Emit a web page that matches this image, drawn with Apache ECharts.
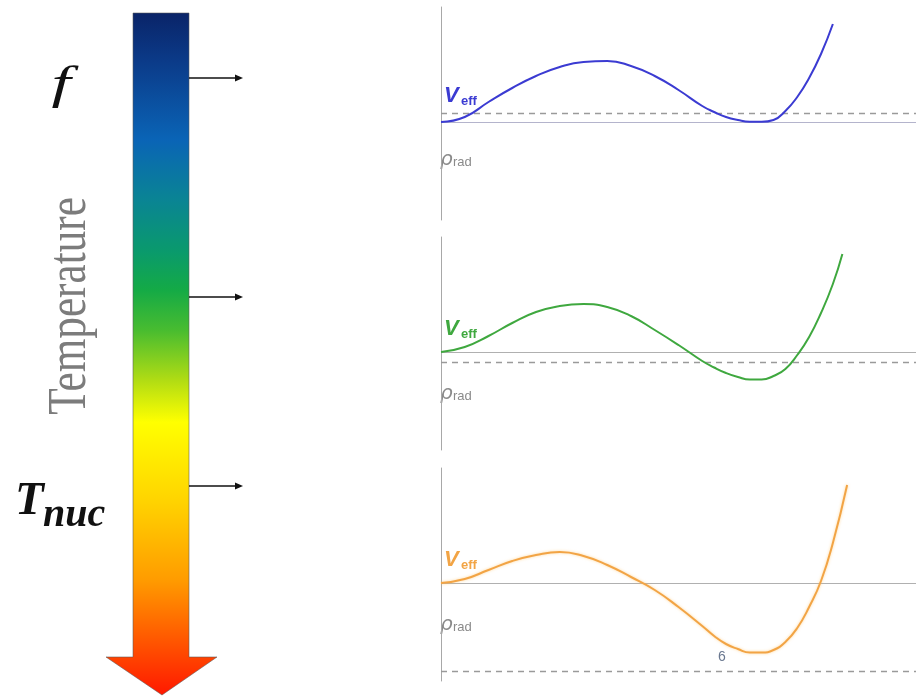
<!DOCTYPE html>
<html>
<head>
<meta charset="utf-8">
<title>Effective potential vs temperature</title>
<script src="https://cdn.jsdelivr.net/npm/echarts@6/dist/echarts.min.js"></script>
<style>
  html, body { margin: 0; padding: 0; background: #ffffff; }
  #chart { width: 916px; height: 700px; }
</style>
</head>
<body>
<div id="chart"></div>
<script>
// Effective potential V_eff(ρ_rad) at three temperatures, high (top) to T_nuc (bottom).
// x: field value (0–100), y: potential relative to the false-vacuum level.
const highTCurve = [
  [0, 0], [5, 5], [10, 20], [15, 34], [20, 46], [25, 55], [30, 60], [35, 61],
  [40, 56], [45, 46], [50, 32], [55, 16], [57.5, 10], [60, 5], [62.5, 2], [65, 0.3],
  [67.5, 0.2], [70, 2], [72.5, 11], [75, 25], [77.5, 44], [80, 68], [82.5, 98]
];
const midTCurve = [
  [0, 0], [5, 5], [10, 16], [15, 29], [20, 40], [25, 46], [30, 48], [35, 45],
  [40, 36], [45, 22], [50, 7], [55, -9], [57.5, -15.5], [60, -21], [62.5, -25], [65, -27.5],
  [67.5, -27.5], [70, -24], [72.5, -17], [75, -3], [77.5, 15], [80, 39], [82.5, 68], [84.5, 98]
];
const nucTCurve = [
  [0, 0], [5, 4], [10, 13], [15, 22], [20, 28], [25, 31], [30, 27], [35, 18],
  [40, 6], [45, -7], [50, -24], [55, -43], [57.5, -53], [60, -61], [62.5, -66], [65, -69.5],
  [67.5, -69.5], [70, -67], [72.5, -59], [75, -45], [77.5, -24], [80, 2], [82.5, 40], [85.5, 98]
];
const curves = [highTCurve, midTCurve, nucTCurve];
const curveColors = ['#3b3bd2', '#3fa83f', '#f2a445'];
const baselineColors = ['#b4b4cc', '#b0b0b0', '#b0b0b0'];
const dashedLevels = [9, -10, -88];
const panelLabels = ['f', 'Temperature', 'T', 'nuc'];
const minLabel = '6';

const yMin = -98, yMax = 115;
const panelTops = [7, 237, 468];
const panelHeight = 213;
const plotLeft = 441;

const chart = echarts.init(document.getElementById('chart'), null, { renderer: 'canvas' });

const grids = [], xAxes = [], yAxes = [], series = [];
curves.forEach((data, i) => {
  grids.push({ left: plotLeft, right: 0, top: panelTops[i], height: panelHeight });
  xAxes.push({ type: 'value', gridIndex: i, min: 0, max: 100, show: false });
  yAxes.push({
    type: 'value', gridIndex: i, min: yMin, max: yMax,
    axisLine: { show: true, onZero: false, lineStyle: { color: '#a8a8a8', width: 1 } },
    axisTick: { show: false }, axisLabel: { show: false }, splitLine: { show: false }
  });
  series.push({
    type: 'line', xAxisIndex: i, yAxisIndex: i, data: data,
    smooth: 0.5, showSymbol: false, silent: true, z: 3,
    lineStyle: { color: curveColors[i], width: 2, shadowColor: i === 2 ? 'rgba(255,190,90,0.6)' : 'rgba(0,0,0,0)', shadowBlur: i === 2 ? 3 : 0 },
    markLine: {
      silent: true, symbol: 'none', label: { show: false }, z: 2,
      data: [
        { yAxis: 0, lineStyle: { color: baselineColors[i], type: 'solid', width: 1 } },
        { yAxis: dashedLevels[i], lineStyle: { color: '#9a9a9a', type: [6, 5], width: 1.3 } }
      ]
    }
  });
});

// Pixel row of the zero level in each panel
const zeroY = panelTops.map(t => t + panelHeight * yMax / (yMax - yMin));

const graphics = [];

// Temperature bar with arrowhead
graphics.push({
  type: 'polygon',
  shape: { points: [[133, 13], [189, 13], [189, 657], [217, 657], [162, 695], [106, 657], [133, 657]] },
  style: {
    fill: new echarts.graphic.LinearGradient(0, 0, 0, 1, [
      { offset: 0, color: '#0a2468' },
      { offset: 0.07, color: '#0b3a88' },
      { offset: 0.186, color: '#0a64b6' },
      { offset: 0.274, color: '#0a8494' },
      { offset: 0.35, color: '#0a9a6c' },
      { offset: 0.406, color: '#14aa46' },
      { offset: 0.465, color: '#48bc30' },
      { offset: 0.538, color: '#b0dc14' },
      { offset: 0.6, color: '#ffff00' },
      { offset: 0.714, color: '#ffd400' },
      { offset: 0.83, color: '#ff9c00' },
      { offset: 0.92, color: '#ff5600' },
      { offset: 1, color: '#ff1800' }
    ]),
    stroke: 'rgba(90,90,90,0.55)', lineWidth: 1
  }
});

// Pointer arrows from the bar to each panel
[78, 297, 486].forEach(y => {
  graphics.push({ type: 'line', shape: { x1: 189, y1: y, x2: 237, y2: y }, style: { stroke: '#111', lineWidth: 1.5 } });
  graphics.push({ type: 'polygon', shape: { points: [[243, y], [235, y - 3.5], [235, y + 3.5]] }, style: { fill: '#111' } });
});

// Left-side labels
graphics.push({
  type: 'text', x: 61, y: 86, scaleX: 1.5, scaleY: 1,
  style: { text: panelLabels[0], font: 'italic 46px "Liberation Serif", "DejaVu Serif", serif', fill: '#111', align: 'center', verticalAlign: 'middle' }
});
graphics.push({
  type: 'text', x: 71, y: 306, rotation: Math.PI / 2, scaleX: 0.8, scaleY: 1,
  style: { text: panelLabels[1], font: '54px "Liberation Serif", "DejaVu Serif", serif', fill: '#7c7c7c', align: 'center', verticalAlign: 'middle' }
});
graphics.push({
  type: 'text', x: 15, y: 525,
  style: { text: panelLabels[2], font: 'italic bold 47px "Liberation Serif", "DejaVu Serif", serif', fill: '#111', align: 'left', verticalAlign: 'bottom' }
});
graphics.push({
  type: 'text', x: 43, y: 536,
  style: { text: panelLabels[3], font: 'italic bold 40px "Liberation Serif", "DejaVu Serif", serif', fill: '#111', align: 'left', verticalAlign: 'bottom' }
});

// Panel labels: V_eff and ρ_rad
const vOffsets = [-19, -16, -16];
const rhoOffsets = [44, 48, 48];
zeroY.forEach((z, i) => {
  const vb = z + vOffsets[i];
  graphics.push({
    type: 'text', x: 444, y: vb + 4,
    style: { text: 'V', font: 'italic bold 22px "Liberation Sans", Arial, sans-serif', fill: curveColors[i], align: 'left', verticalAlign: 'bottom' }
  });
  graphics.push({
    type: 'text', x: 461, y: vb + 5,
    style: { text: 'eff', font: 'bold 13px "Liberation Sans", Arial, sans-serif', fill: curveColors[i], align: 'left', verticalAlign: 'bottom' }
  });
  const rb = z + rhoOffsets[i];
  graphics.push({
    type: 'text', x: 440, y: rb + 4,
    style: { text: 'ρ', font: 'italic 20px "DejaVu Sans", sans-serif', fill: '#8a8a8a', align: 'left', verticalAlign: 'bottom' }
  });
  graphics.push({
    type: 'text', x: 453, y: rb + 3,
    style: { text: 'rad', font: '13px "Liberation Sans", Arial, sans-serif', fill: '#8a8a8a', align: 'left', verticalAlign: 'bottom' }
  });
});

// Label under the true-vacuum minimum
graphics.push({
  type: 'text', x: 722, y: 657,
  style: { text: minLabel, font: '14px "Liberation Sans", Arial, sans-serif', fill: '#6a7890', align: 'center', verticalAlign: 'middle' }
});

chart.setOption({
  animation: false,
  backgroundColor: '#ffffff',
  grid: grids,
  xAxis: xAxes,
  yAxis: yAxes,
  series: series,
  graphic: graphics
});
</script>
</body>
</html>
